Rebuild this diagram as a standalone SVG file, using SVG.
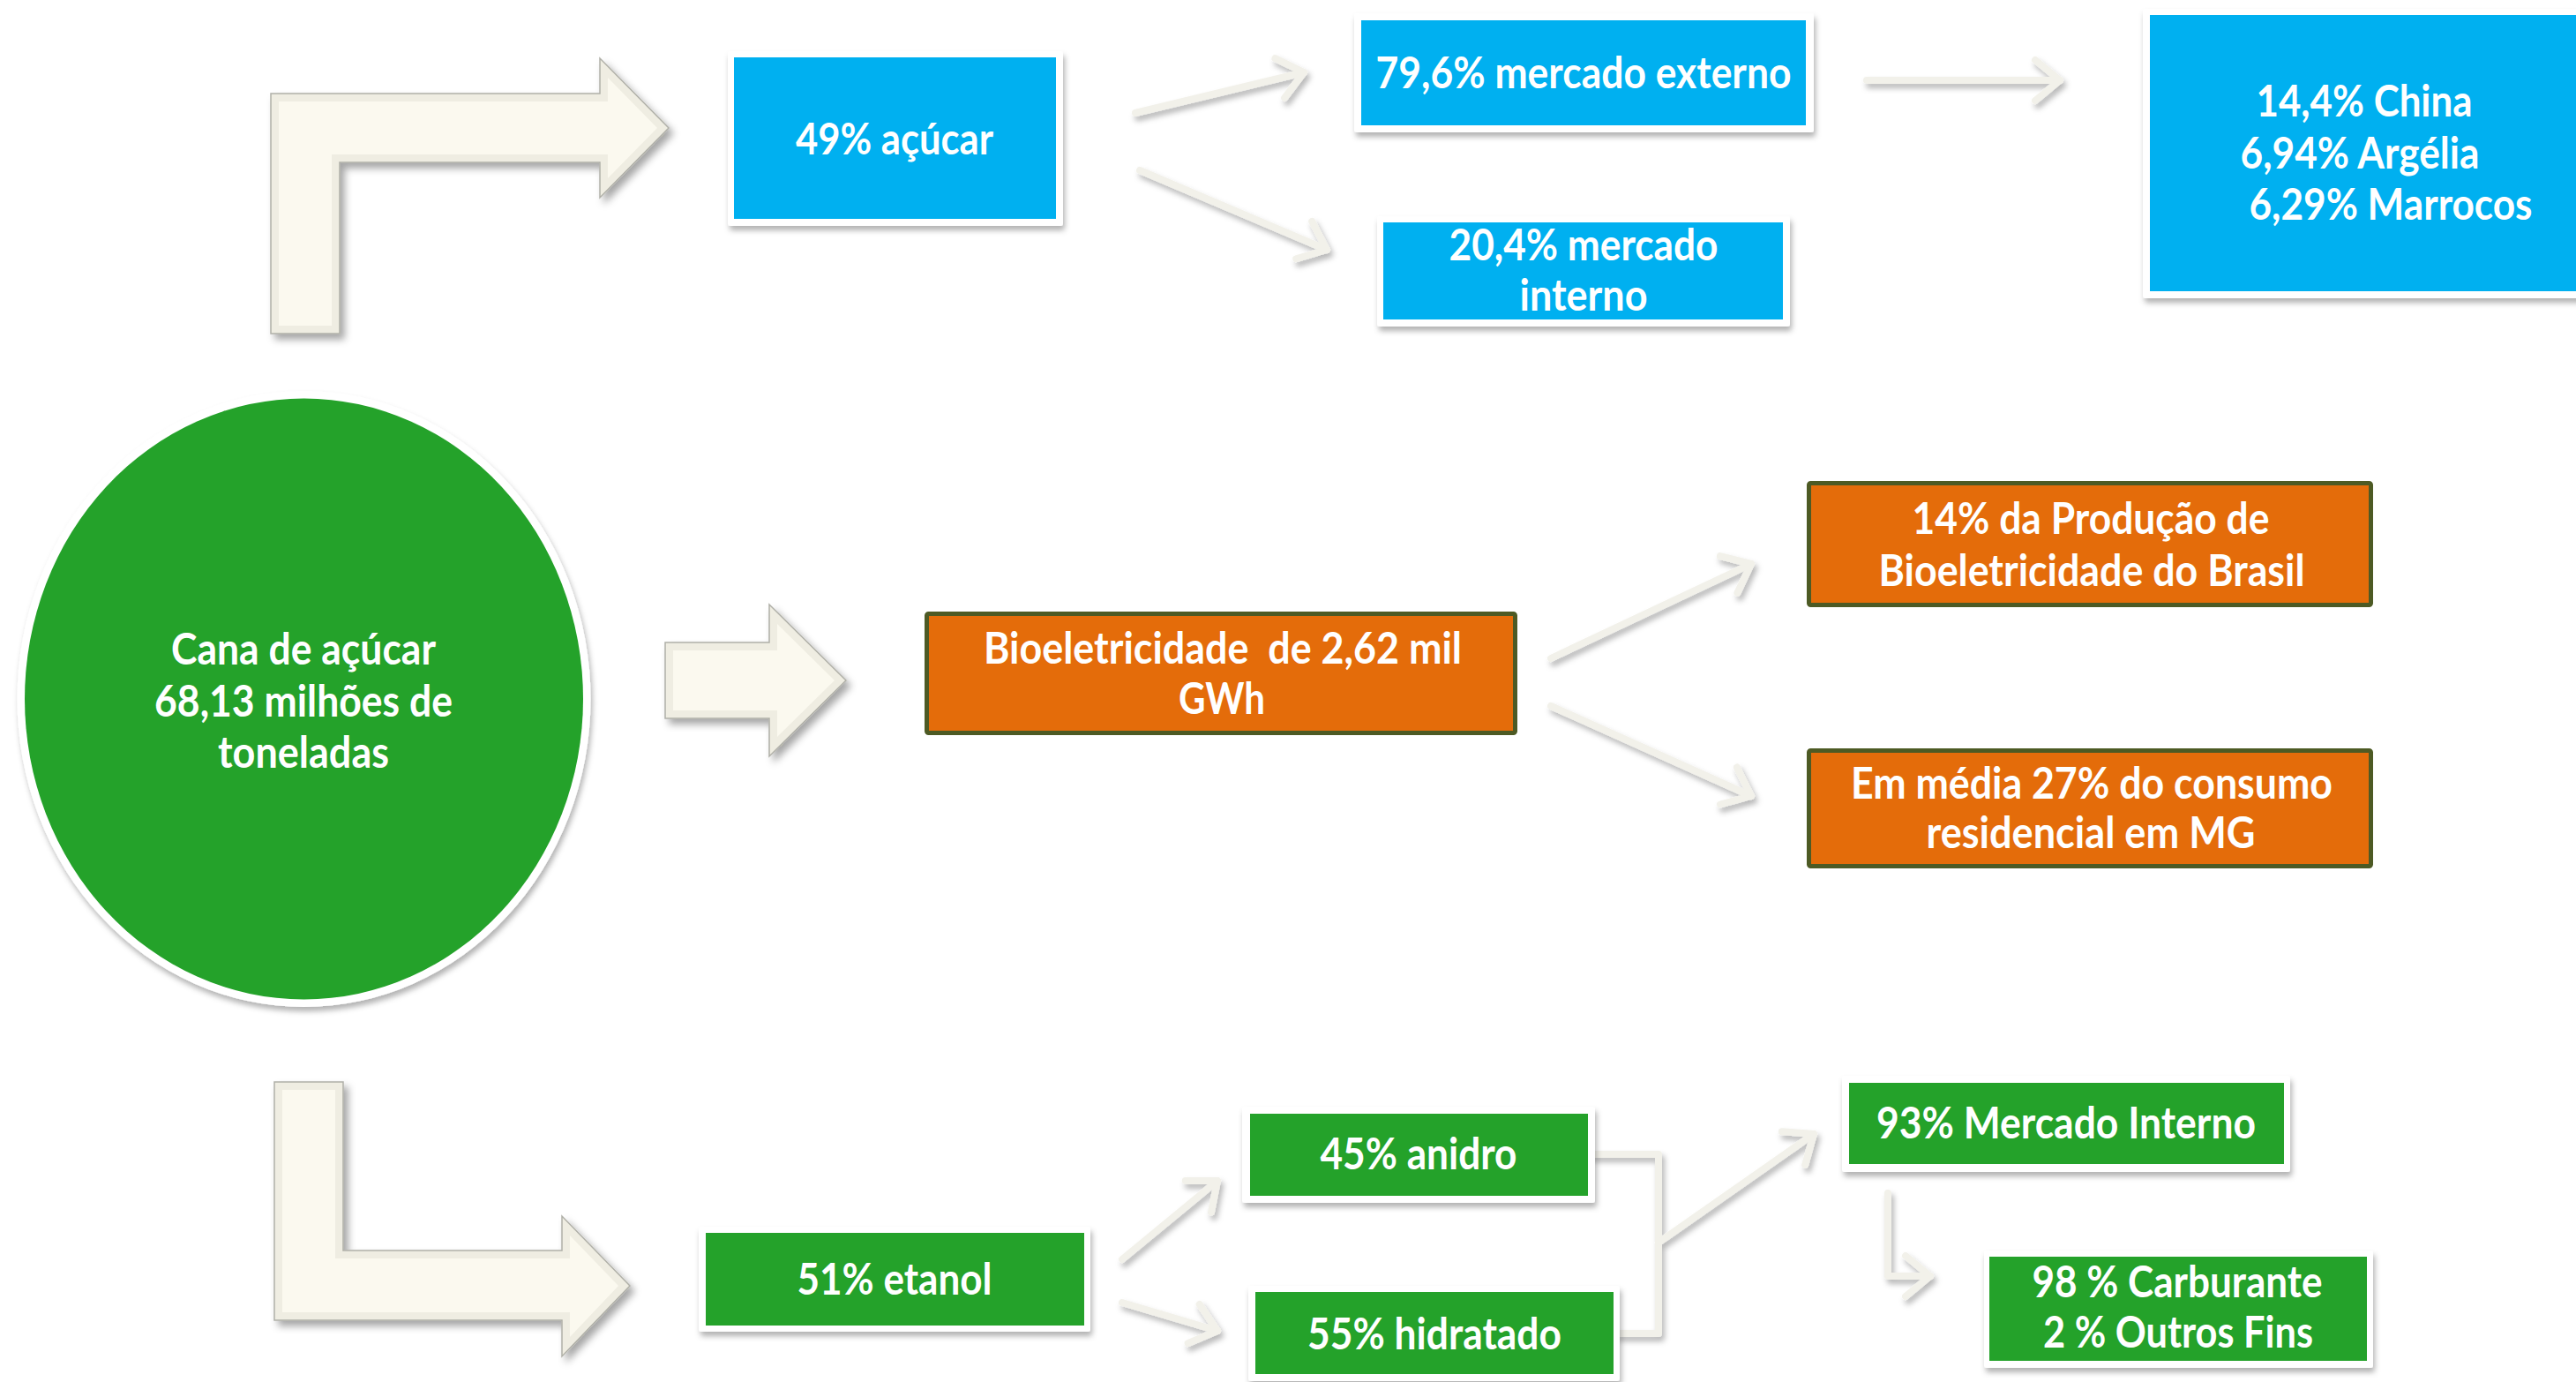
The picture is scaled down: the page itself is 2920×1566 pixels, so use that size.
<svg xmlns="http://www.w3.org/2000/svg" width="2920" height="1566" viewBox="0 0 2920 1566">
<style>
.t{font-family:Lato,"Open Sans","Liberation Sans",sans-serif;font-weight:700;font-size:49px;fill:#ffffff;text-anchor:middle}
.frame{fill:#ffffff}
.blue{fill:#00b0f0}
.green{fill:#24a22a}
.orange{fill:#e46c0a;stroke:#4d5a24;stroke-width:5}
.big{fill:#efede2;stroke:#b0b0a8;stroke-width:1.5}
.bevel{fill:#fbf9ef}
.con{fill:none;stroke:#f2f1ea;stroke-width:8;stroke-linecap:round;stroke-linejoin:round}
</style>
<defs>
<filter id="sh" x="-10%" y="-10%" width="120%" height="130%">
<feDropShadow dx="2" dy="5" stdDeviation="3" flood-color="#000" flood-opacity="0.3"/>
</filter>
<filter id="shb" x="-10%" y="-10%" width="130%" height="130%">
<feDropShadow dx="5" dy="6" stdDeviation="4" flood-color="#000" flood-opacity="0.35"/>
</filter>
<filter id="shc" x="-20%" y="-20%" width="140%" height="140%">
<feDropShadow dx="3" dy="5" stdDeviation="3" flood-color="#000" flood-opacity="0.28"/>
</filter>
<marker id="ah" markerUnits="userSpaceOnUse" markerWidth="80" markerHeight="80" refX="0" refY="0" viewBox="-40 -40 80 80" orient="auto" overflow="visible">
<path d="M-28,-23 L0,0 L-28,23" fill="none" stroke="#f2f1ea" stroke-width="8" stroke-linecap="round" stroke-linejoin="round"/>
</marker>
</defs>
<rect width="2920" height="1566" fill="#ffffff"/>

<g id="big-arrows">
<g id="arrow-top">
<path class="big" filter="url(#shb)" d="M307,106 L680,106 L680,66 L758,145 L680,224 L680,184 L385,184 L385,378 L307,378 Z"/>
<path class="bevel" d="M316,115 L689,115 L689,88 L745,145 L689,202 L689,175 L376,175 L376,369 L316,369 Z"/>
</g>
<g id="arrow-mid">
<path class="big" filter="url(#shb)" d="M754,728 L872,728 L872,685 L959,771 L872,857 L872,814 L754,814 Z"/>
<path class="bevel" d="M763,737 L881,737 L881,707 L946,771 L881,835 L881,805 L763,805 Z"/>
</g>
<g id="arrow-bottom">
<path class="big" filter="url(#shb)" d="M311,1226 L389,1226 L389,1417 L637,1417 L637,1378 L714,1457 L637,1537 L637,1496 L311,1496 Z"/>
<path class="bevel" d="M320,1235 L380,1235 L380,1426 L646,1426 L646,1400 L701,1457 L646,1515 L646,1487 L320,1487 Z"/>
</g>
</g>

<g id="connectors" filter="url(#shc)">
<line class="con" x1="1287" y1="128" x2="1478" y2="82" marker-end="url(#ah)"/>
<line class="con" x1="1292" y1="193" x2="1504" y2="283" marker-end="url(#ah)"/>
<line class="con" x1="2116" y1="91" x2="2335" y2="91" marker-end="url(#ah)"/>
<line class="con" x1="1758" y1="746" x2="1985" y2="639" marker-end="url(#ah)"/>
<line class="con" x1="1758" y1="800" x2="1985" y2="902" marker-end="url(#ah)"/>
<line class="con" x1="1272" y1="1427" x2="1380" y2="1338" marker-end="url(#ah)"/>
<line class="con" x1="1272" y1="1476" x2="1380" y2="1508" marker-end="url(#ah)"/>
<path class="con" d="M1806,1308 H1880 V1511 H1834"/>
<line class="con" x1="1880" y1="1408" x2="2056" y2="1285" marker-end="url(#ah)"/>
<path class="con" d="M2140,1352 V1446 H2188" marker-end="url(#ah)"/>
</g>

<g id="n-acucar">
<rect class="frame" x="825" y="58" width="380" height="198" rx="3" filter="url(#sh)"/>
<rect class="blue" x="832" y="65" width="365" height="183"/>
<text class="t" x="1014" y="175" textLength="224" lengthAdjust="spacingAndGlyphs">49% açúcar</text>
</g>

<g id="n-externo">
<rect class="frame" x="1535" y="15" width="521" height="135" rx="3" filter="url(#sh)"/>
<rect class="blue" x="1543" y="23" width="504" height="119"/>
<text class="t" x="1795" y="100" textLength="471" lengthAdjust="spacingAndGlyphs">79,6% mercado externo</text>
</g>

<g id="n-interno">
<rect class="frame" x="1561" y="245" width="468" height="125" rx="3" filter="url(#sh)"/>
<rect class="blue" x="1568" y="252" width="453" height="110"/>
<text class="t" x="1795" y="295" textLength="305" lengthAdjust="spacingAndGlyphs">20,4% mercado</text>
<text class="t" x="1795" y="352" textLength="145" lengthAdjust="spacingAndGlyphs">interno</text>
</g>

<g id="n-paises">
<rect class="frame" x="2429" y="10" width="520" height="328" rx="3" filter="url(#sh)"/>
<rect class="blue" x="2437" y="17" width="500" height="313"/>
<text class="t" x="2680" y="132" textLength="245" lengthAdjust="spacingAndGlyphs">14,4% China</text>
<text class="t" x="2675" y="191" textLength="271" lengthAdjust="spacingAndGlyphs">6,94% Argélia</text>
<text class="t" x="2710" y="249" textLength="321" lengthAdjust="spacingAndGlyphs">6,29% Marrocos</text>
</g>

<g id="n-cana">
<ellipse cx="344.5" cy="792" rx="325" ry="349" fill="#ffffff" filter="url(#sh)"/>
<ellipse cx="344.5" cy="792" rx="316.5" ry="340.5" fill="#24a22a"/>
<text class="t" x="344" y="753" textLength="300" lengthAdjust="spacingAndGlyphs">Cana de açúcar</text>
<text class="t" x="344" y="812" textLength="338" lengthAdjust="spacingAndGlyphs">68,13 milhões de</text>
<text class="t" x="344" y="870" textLength="194" lengthAdjust="spacingAndGlyphs">toneladas</text>
</g>

<g id="n-bioeletricidade">
<rect class="orange" x="1050.5" y="695.5" width="667" height="135" rx="2"/>
<text class="t" x="1386" y="752" textLength="542" lengthAdjust="spacingAndGlyphs" xml:space="preserve">Bioeletricidade  de 2,62 mil</text>
<text class="t" x="1385" y="809" textLength="98" lengthAdjust="spacingAndGlyphs">GWh</text>
</g>

<g id="n-producao">
<rect class="orange" x="2050.5" y="547.5" width="637" height="138" rx="2"/>
<text class="t" x="2370" y="605" textLength="405" lengthAdjust="spacingAndGlyphs">14% da Produção de</text>
<text class="t" x="2371" y="664" textLength="483" lengthAdjust="spacingAndGlyphs">Bioeletricidade do Brasil</text>
</g>

<g id="n-consumo">
<rect class="orange" x="2050.5" y="850.5" width="637" height="131" rx="2"/>
<text class="t" x="2371" y="905" textLength="546" lengthAdjust="spacingAndGlyphs">Em média 27% do consumo</text>
<text class="t" x="2370" y="961" textLength="373" lengthAdjust="spacingAndGlyphs">residencial em MG</text>
</g>

<g id="n-etanol">
<rect class="frame" x="792" y="1390" width="444" height="119" rx="3" filter="url(#sh)"/>
<rect class="green" x="800" y="1397" width="429" height="105"/>
<text class="t" x="1014" y="1467" textLength="221" lengthAdjust="spacingAndGlyphs">51% etanol</text>
</g>

<g id="n-anidro">
<rect class="frame" x="1408" y="1254" width="400" height="109" rx="3" filter="url(#sh)"/>
<rect class="green" x="1417" y="1262" width="383" height="93"/>
<text class="t" x="1608" y="1325" textLength="223" lengthAdjust="spacingAndGlyphs">45% anidro</text>
</g>

<g id="n-hidratado">
<rect class="frame" x="1415" y="1457" width="421" height="108" rx="3" filter="url(#sh)"/>
<rect class="green" x="1423" y="1464" width="406" height="93"/>
<text class="t" x="1626" y="1529" textLength="288" lengthAdjust="spacingAndGlyphs">55% hidratado</text>
</g>

<g id="n-mercado-interno">
<rect class="frame" x="2088" y="1219" width="508" height="109" rx="3" filter="url(#sh)"/>
<rect class="green" x="2096" y="1227" width="493" height="92"/>
<text class="t" x="2342" y="1290" textLength="430" lengthAdjust="spacingAndGlyphs">93% Mercado Interno</text>
</g>

<g id="n-carburante">
<rect class="frame" x="2249" y="1417" width="441" height="133" rx="3" filter="url(#sh)"/>
<rect class="green" x="2255" y="1424" width="428" height="118"/>
<text class="t" x="2468" y="1470" textLength="329" lengthAdjust="spacingAndGlyphs">98 % Carburante</text>
<text class="t" x="2469" y="1527" textLength="306" lengthAdjust="spacingAndGlyphs">2 % Outros Fins</text>
</g>
</svg>
